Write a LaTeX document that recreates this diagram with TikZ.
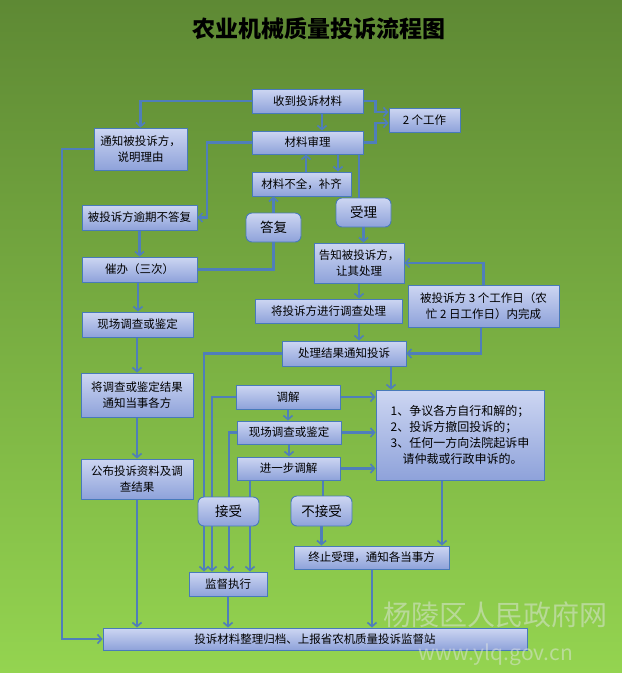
\documentclass[tikz,border=0pt]{standalone}
\usepackage{fontspec}
\newfontfamily\cjk{Noto Sans CJK SC}
\usetikzlibrary{arrows.meta,calc}
\definecolor{bgtop}{RGB}{94,137,52}
\definecolor{bgmid}{RGB}{128,184,66}
\definecolor{bgbot}{RGB}{148,212,80}
\definecolor{boxtop}{RGB}{205,214,242}
\definecolor{boxbot}{RGB}{142,162,218}
\definecolor{boxline}{RGB}{72,122,186}
\definecolor{lncol}{RGB}{79,126,186}
\definecolor{wmcol}{RGB}{225,230,225}
\pgfdeclarelayer{bg}
\pgfsetlayers{bg,main}
\tikzset{
  box/.style={draw=boxline, line width=0.9pt, top color=boxtop, bottom color=boxbot,
    inner sep=0pt, align=center, font=\cjk\fontsize{11.5}{16}\selectfont},
  rbox/.style={box, rounded corners=6pt, font=\cjk\fontsize{13.5}{16}\selectfont},
  ln/.style={draw=lncol, line width=2.2pt},
  arr/.style={ln, -{Straight Barb[length=4pt,width=9pt,line width=1.6pt]}},
  wm/.style={text=wmcol, text opacity=0.5, inner sep=0pt}
}
\begin{document}
\begin{tikzpicture}[x=1pt,y=-1pt]
		\useasboundingbox (0,0) rectangle (622,673);
		\node[font=\cjk\bfseries\fontsize{23}{25}\selectfont] (title) at (319,29) {农业机械质量投诉流程图};
		
		\node[box, minimum width=111, minimum height=24] (shou) at (307.5,101) {收到投诉材料};
		\node[box, minimum width=71, minimum height=24] (gz2) at (424.5,120) {2 个工作};
		\node[box, minimum width=111, minimum height=23] (shen) at (307.5,142.5) {材料审理};
		\node[box, minimum width=93, minimum height=42] (tz) at (140.5,149) {通知被投诉方，\\说明理由};
		\node[box, minimum width=99, minimum height=24] (bq) at (301.5,184) {材料不全，补齐};
		\node[box, minimum width=115, minimum height=25] (yq) at (139.5,217.5) {被投诉方逾期不答复};
		\node[rbox, minimum width=55, minimum height=29] (df) at (273.5,227.5) {答复};
		\node[rbox, minimum width=55, minimum height=29] (sl) at (363.5,212.5) {受理};
		\node[box, minimum width=90, minimum height=40] (gz) at (359,263) {告知被投诉方，\\让其处理};
		\node[box, minimum width=115, minimum height=25] (cb) at (139.5,269.5) {催办（三次）};
		\node[box, minimum width=151, minimum height=42] (sg) at (483.5,306) {被投诉方 3 个工作日（农\\忙 2 日工作日）内完成};
		\node[box, minimum width=111, minimum height=25] (xc1) at (137.5,324.5) {现场调查或鉴定};
		\node[box, minimum width=147, minimum height=24] (dc) at (328.5,311) {将投诉方进行调查处理};
		\node[box, minimum width=124, minimum height=25] (jg) at (344,353.5) {处理结果通知投诉};
		\node[box, minimum width=112, minimum height=44] (tz2) at (137,395) {将调查或鉴定结果\\通知当事各方};
		\node[box, minimum width=104, minimum height=24] (tj) at (288,397) {调解};
		\node[box, minimum width=104, minimum height=23] (xc2) at (289,432.5) {现场调查或鉴定};
		\node[box, minimum width=103, minimum height=23] (jyb) at (288.5,468.5) {进一步调解};
		\node[box, minimum width=168, minimum height=90, align=left, font=\cjk\fontsize{12}{16}\selectfont] (lb) at (460,435)
			{1、争议各方自行和解的；\\2、投诉方撤回投诉的；\\3、任何一方向法院起诉申\\\hspace*{1em}请仲裁或行政申诉的。};
		\node[box, minimum width=112, minimum height=40] (gb) at (137,479) {公布投诉资料及调\\查结果};
		\node[rbox, minimum width=61, minimum height=29] (js) at (228.5,511.5) {接受};
		\node[rbox, minimum width=61, minimum height=30] (bjs) at (321.5,511) {不接受};
		\node[box, minimum width=155, minimum height=23] (zz) at (371.5,557.5) {终止受理，通知各当事方};
		\node[box, minimum width=78, minimum height=24] (jd) at (228,584) {监督执行};
		\node[box, minimum width=424, minimum height=22] (gd) at (315,639) {投诉材料整理归档、上报省农机质量投诉监督站};
		
		\node[wm, font=\cjk\fontsize{28}{30}\selectfont] (wm1) at (495,615) {杨陵区人民政府网};
		\node[wm, font=\cjk\fontsize{21}{24}\selectfont] (wm2) at (496,655) {www.ylq.gov.cn};
		
		\begin{pgfonlayer}{bg}
		\shade[top color=bgtop, middle color=bgmid, bottom color=bgbot] (0,0) rectangle (622,673);
		\draw[arr] (shou.west) -| (tz.north);
		\draw[arr] (322,0 |- shou.south) -- (322,0 |- shen.north);
		\draw[arr] (shou.east) -- ++(12,0) |- ($(gz2.west)+(0,-8)$);
		\draw[arr] (shen.east) -- ++(12,0) |- ($(gz2.west)+(0,3)$);
		\draw[arr] (shen.west) -- (207,0 |- shen.west) |- (yq.east);
		\draw[arr] (338,0 |- shen.south) -- (338,0 |- bq.north);
		\draw[arr] (306,0 |- bq.north) -- (306,0 |- shen.south);
		\draw[ln] (359,0 |- shen.south) -- (359,0 |- sl.north);
		\draw[arr] (sl.south) -- (sl.south |- gz.north);
		\draw[arr] (df.north) -- (df.north |- bq.south);
		\draw[ln] (cb.east) -| (df.south);
		\draw[arr] (yq.south) -- (yq.south |- cb.north);
		\draw[arr] (138,0 |- cb.south) -- (138,0 |- xc1.north);
		\draw[arr] (137,0 |- xc1.south) -- (137,0 |- tz2.north);
		\draw[arr] (tz2.south) -- (tz2.south |- gb.north);
		\draw[arr] (gb.south) -- (gb.south |- gd.north);
		\draw[arr] (tz.west) -- (62,0 |- tz.west) |- (gd.west);
		\draw[arr] (gz.south) -- (gz.south |- dc.north);
		\draw[arr] (359,0 |- dc.south) -- (359,0 |- jg.north);
		\draw[arr] (sg.north) |- (gz.east);
		\draw[arr] (481,0 |- sg.south) |- (jg.east);
		\draw[arr] (391,0 |- jg.south) -- (391,0 |- lb.north);
		\draw[arr] (jg.west) -- (204,0 |- jg.west) -- (204,0 |- jd.north);
		\draw[arr] (tj.west) -- (212,0 |- tj.west) -- (212,0 |- jd.north);
		\draw[arr] (xc2.west) -- (229,0 |- xc2.west) -- (229,0 |- jd.north);
		\draw[arr] (250,0 |- jyb.south) -- (250,0 |- jd.north);
		\draw[ln] (323,0 |- jyb.south) -- (323,0 |- bjs.north);
		\draw[arr] (bjs.south) -- (bjs.south |- zz.north);
		\draw[arr] (tj.east) -- (tj.east -| lb.west);
		\draw[arr] (xc2.east) -- (xc2.east -| lb.west);
		\draw[arr] (jyb.east) -- (jyb.east -| lb.west);
		\draw[arr] (tj.south) -- (tj.south |- xc2.north);
		\draw[arr] (xc2.south) -- (xc2.south |- jyb.north);
		\draw[arr] (442,0 |- lb.south) -- (442,0 |- zz.north);
		\draw[arr] (372,0 |- zz.south) -- (372,0 |- gd.north);
		\draw[arr] (jd.south) -- (jd.south |- gd.north);
		\end{pgfonlayer}
\end{tikzpicture}
\end{document}
